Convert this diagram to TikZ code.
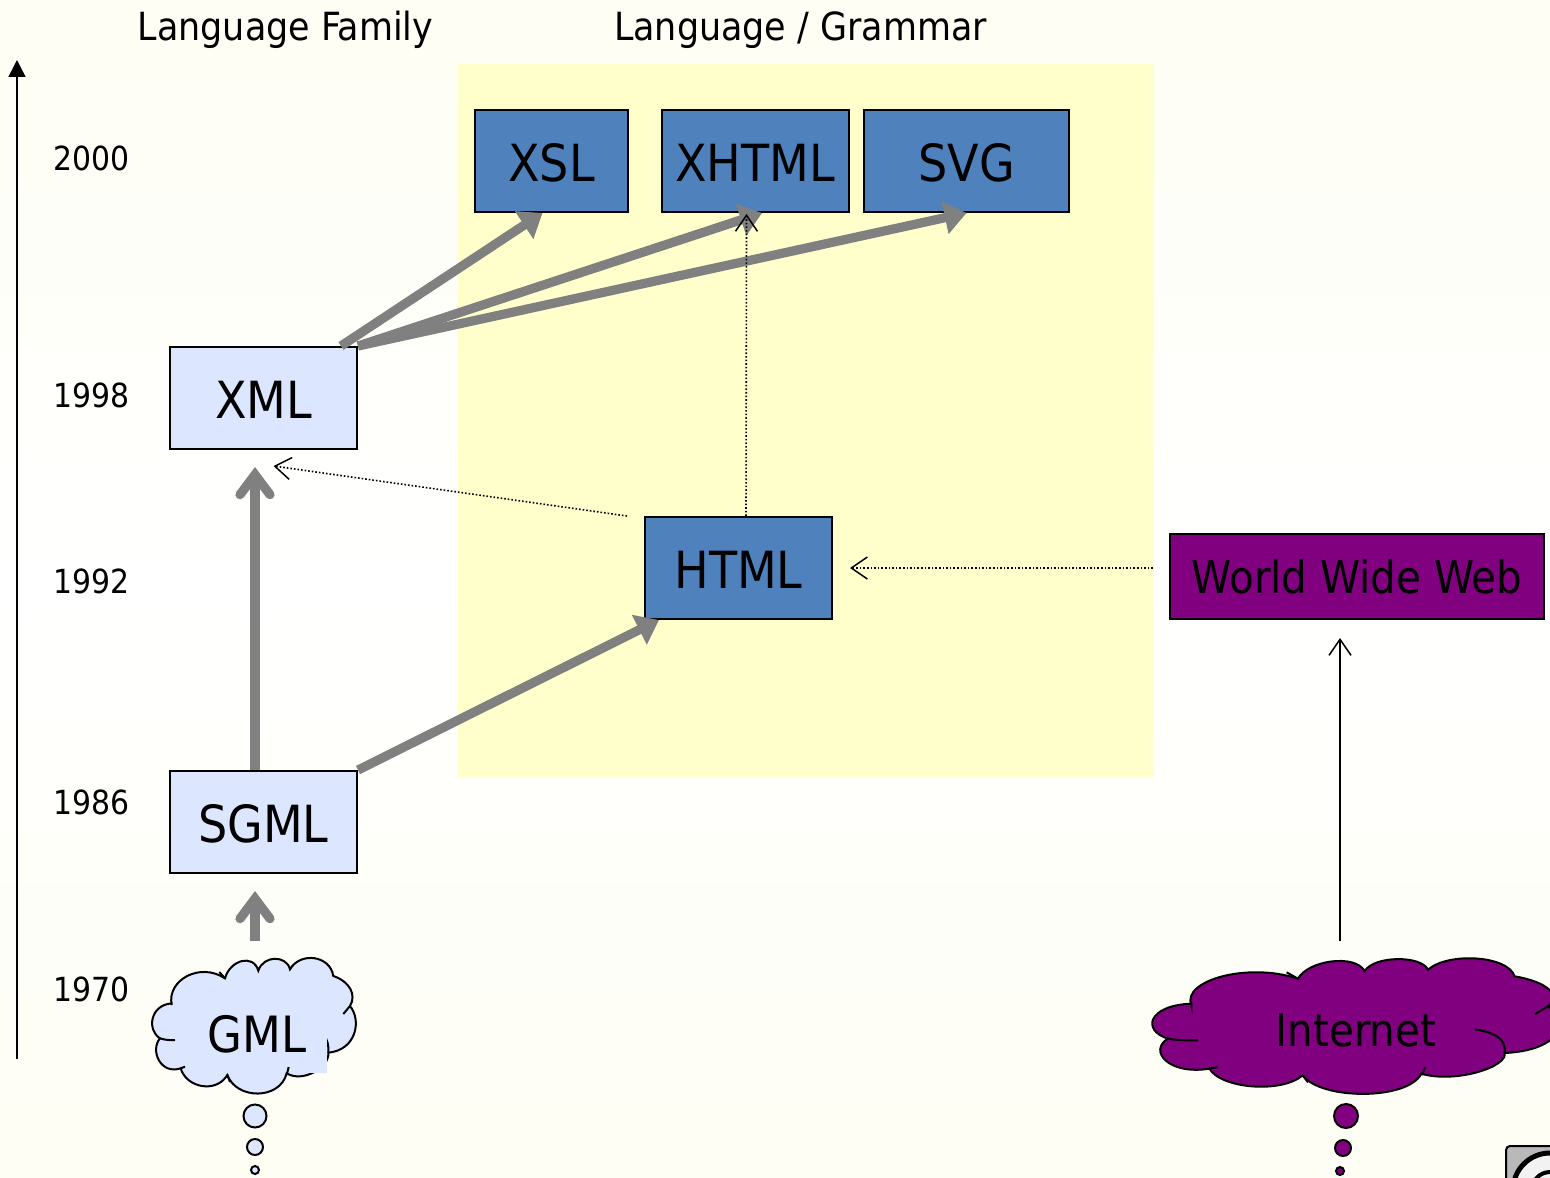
\documentclass[tikz,border=0pt]{standalone}
\usepackage{fontspec}
\setmainfont{DejaVu Sans Condensed}
\usetikzlibrary{arrows.meta}
\definecolor{paleback}{HTML}{FEFEF4}
\definecolor{paleyellow}{HTML}{FFFFCC}
\definecolor{paleblue}{HTML}{DCE6FF}
\definecolor{midblue}{HTML}{4F81BD}
\definecolor{webpurple}{HTML}{800080}
\definecolor{arrowgray}{HTML}{808080}

% one cloud, in units of a third of a pixel
\newcommand{\cloudfill}{
    (125,375) .. controls (110,300) and (210,245) .. (285,295)
    .. controls (300,240) and (370,220) .. (385,272)
    .. controls (400,225) and (470,225) .. (480,268)
    .. controls (510,215) and (600,225) .. (610,288)
    .. controls (660,305) and (680,345) .. (660,378)
    .. controls (695,420) and (680,510) .. (595,518)
    .. controls (600,560) and (520,610) .. (470,580)
    .. controls (450,660) and (320,660) .. (292,585)
    .. controls (260,640) and (170,625) .. (152,565)
    .. controls (90,585) and (60,510) .. (90,475)
    .. controls (50,450) and (60,375) .. (125,370) -- cycle
}
\newcommand{\cloudcurls}{
    (268,276) -- (285,295)
    (660,378) -- (640,402)
    (550,447) .. controls (575,455) and (598,470) .. (595,518)
    (470,585) -- (476,561)
    (292,585) -- (300,606)
    (152,565) -- (165,560)
    (90,475) .. controls (105,480) and (120,481) .. (135,480)
}

\tikzset{
    boxlight/.style={draw=black,line width=1pt,fill=paleblue,inner sep=0pt,text height=20.2pt,text depth=0pt,font=\fontsize{25.6}{30}\selectfont},
    boxblue/.style={draw=black,line width=1pt,fill=midblue,inner sep=0pt,text height=20.2pt,text depth=0pt,font=\fontsize{25.6}{30}\selectfont},
    boxweb/.style={draw=black,line width=1pt,fill=webpurple,inner sep=0pt,font=\fontsize{22.5}{27}\selectfont},
    heading/.style={inner sep=0pt,font=\fontsize{19.4}{24}\selectfont},
    year/.style={inner sep=0pt,font=\fontsize{16.6}{21}\selectfont},
    fatline/.style={draw=arrowgray,line width=4.6pt,-{Triangle[length=11pt,width=16pt]}},
    fatbarb/.style={draw=arrowgray,line width=4.6pt,-{Straight Barb[length=10pt,width=15pt,line cap=round]}},
    thinbarb/.style={line width=0.75pt,-{Straight Barb[length=8pt,width=11pt]}},
    dotbarb/.style={line width=0.8pt,densely dotted,-{Straight Barb[length=8pt,width=11pt,line width=0.75pt]}},
    bubble/.style={draw=black,line width=1pt},
}
\begin{document}
\begin{tikzpicture}[x=0.5pt,y=-0.5pt]
    \useasboundingbox (0,0) rectangle (1550,1177);
    \shade[top color=paleback,bottom color=paleback,middle color=white] (0,0) rectangle (1550,1177);
    \fill[paleyellow] (458,64) rectangle (1154,777);

    % Headings
    \node (family) [heading] at (285.5,30) {Language Family};
    \node (grammar) [heading] at (800.5,30) {Language / Grammar};

    % Years
    \node (y2000) [year] at (91.5,158.5) {2000};
    \node (y1998) [year] at (91.5,395.5) {1998};
    \node (y1992) [year] at (91.5,581.5) {1992};
    \node (y1986) [year] at (91.5,802.5) {1986};
    \node (y1970) [year] at (91.5,989.5) {1970};

    % Clouds
    \begin{scope}[shift={(130,880)},x=0.5pt/3,y=-0.5pt/3]
        \draw[line width=1pt,fill=paleblue] \cloudfill;
        \draw[line width=1pt] \cloudcurls;
        \fill[paleblue] (500,440) rectangle (591,578);
    \end{scope}
    \begin{scope}[shift={(1152,958)},x=0.5pt/1.5,y=-0.5pt/3]
        \begin{scope}[shift={(-66,-233)}]
            \draw[line width=1pt,fill=webpurple] \cloudfill;
            \draw[line width=1pt] \cloudcurls;
        \end{scope}
    \end{scope}

    % Nodes
    \node (xsl) [boxblue,minimum width=76.5pt,minimum height=51pt] at (551.5,161) {XSL};
    \node (xhtml) [boxblue,minimum width=93.5pt,minimum height=51pt] at (755,161) {XHTML};
    \node (svg) [boxblue,minimum width=102.5pt,minimum height=51pt] at (966.5,161) {SVG};
    \node (xml) [boxlight,minimum width=93.5pt,minimum height=51pt] at (263.5,398) {XML};
    \node (html) [boxblue,minimum width=93.5pt,minimum height=51pt] at (738.5,568) {HTML};
    \node (sgml) [boxlight,minimum width=93.5pt,minimum height=51pt] at (263.5,822) {SGML};
    \node (www) [boxweb,minimum width=187pt,minimum height=42.5pt] at (1357,576.5) {World Wide Web};
    \node (gml) [inner sep=0pt,font=\fontsize{25}{30}\selectfont] at (257,1034) {GML};
    \node (internet) [inner sep=0pt,font=\fontsize{22.5}{27}\selectfont] at (1356,1030) {Internet};

    % Thought bubbles
    \node (gmla) [bubble,circle,fill=paleblue,minimum size=11.5pt,inner sep=0pt] at (255,1116) {};
    \node (gmlb) [bubble,circle,fill=paleblue,minimum size=8pt,inner sep=0pt] at (255,1147) {};
    \node (gmlc) [bubble,circle,fill=paleblue,minimum size=4pt,inner sep=0pt] at (255,1170) {};
    \node (neta) [bubble,circle,fill=webpurple,minimum size=12pt,inner sep=0pt] at (1346,1116) {};
    \node (netb) [bubble,circle,fill=webpurple,minimum size=8pt,inner sep=0pt] at (1343,1148) {};
    \node (netc) [bubble,circle,fill=webpurple,minimum size=4pt,inner sep=0pt] at (1340,1171) {};

    % Free ends
    \coordinate (axisbottom) at (17,1059);
    \coordinate (axistop) at (17,60);
    \coordinate (gmltop) at (255,941);
    \coordinate (nettop) at (1340,941);

    % Arrows
    \draw[line width=0.75pt,-{Triangle[length=8.5pt,width=8.5pt]}] (axisbottom) -- (axistop);
    \draw[fatline] ([xshift=-8.5pt]xml.north east) -- ([xshift=-4.5pt]xsl.south);
    \draw[fatline] (xml.north east) -- ([xshift=3.5pt]xhtml.south);
    \draw[fatline] (xml.north east) -- (svg.south);
    \draw[fatbarb] ([xshift=-4.25pt]sgml.north) -- ([xshift=-4.25pt,yshift=-8.5pt]xml.south);
    \draw[fatline] (sgml.north east) -- ([xshift=7.5pt]html.south west);
    \draw[fatbarb] (gmltop) -- ([xshift=-4.25pt,yshift=-8.5pt]sgml.south);
    \draw[dotbarb] ([xshift=3.75pt]html.north) -- ([xshift=-4.25pt,yshift=-0.5pt]xhtml.south);
    \draw[dotbarb] ([xshift=-8.5pt]html.north west) -- ([xshift=5pt,yshift=-8pt]xml.south);
    \draw[dotbarb] ([xshift=-8pt]www.west |- html) -- ([xshift=8.5pt]html.east);
    \draw[thinbarb] (nettop) -- ([xshift=-8.5pt,yshift=-9pt]www.south);

    % Corner mark
    \draw[line width=1pt,fill=gray!55,rounded corners=2pt] (1506,1180) -- (1506,1146) -- (1560,1146) -- (1560,1180);
    \draw[line width=2.5pt,fill=white!90!gray] (1550,1190) circle (37);
    \draw[line width=2pt] (1550,1190) circle (18);
\end{tikzpicture}
\end{document}
